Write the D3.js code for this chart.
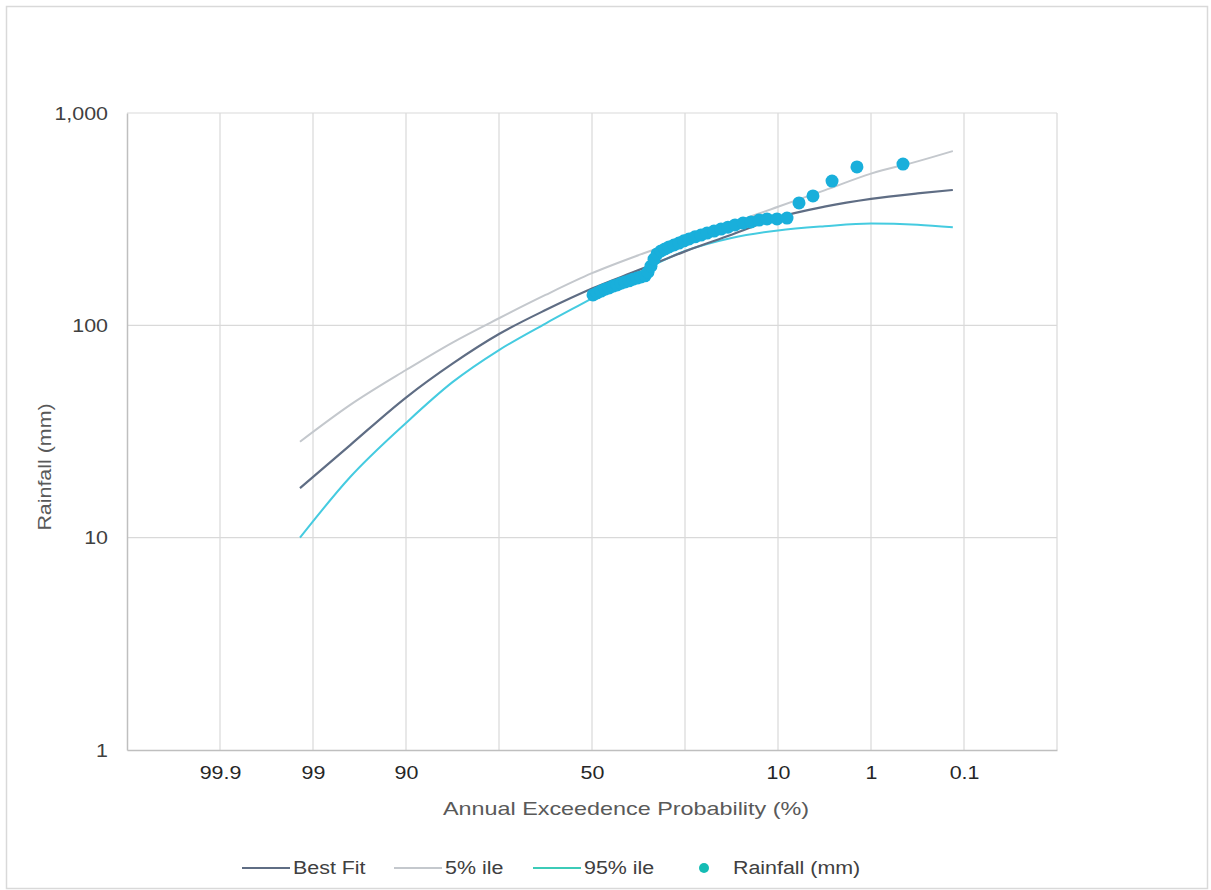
<!DOCTYPE html>
<html><head><meta charset="utf-8">
<script src="https://cdn.jsdelivr.net/npm/d3@7"></script>
<style>
body{margin:0;background:#fff}
svg{display:block}
text{font-family:"Liberation Sans",Arial,Helvetica,sans-serif}
</style>
</head><body>
<svg id="chart" width="1211" height="890"></svg>
<script>
// ---- data ----
const xTickPos = [1, 2, 3, 5, 7, 8, 9];
const xTickLabels = ["99.9", "99", "90", "50", "10", "1", "0.1"];
const yTickValues = [1, 10, 100, 1000];

const curveX = [1.86, 2.4, 3.0, 3.5, 4.0, 4.5, 5.0, 5.5, 6.0, 6.5, 7.0, 7.5, 8.0, 8.5, 8.88];
const bestFit = [17.1, 27.3, 45.7, 66, 91, 118, 149, 182, 223, 267, 322, 362, 394, 418, 434];
const pct5    = [28.3, 42.2, 61.6, 83, 108, 139, 176, 214, 255, 302, 362, 432, 518, 592, 662];
const pct95   = [10.0, 19.3, 34.7, 54, 76.5, 102, 134, 177, 224, 258, 280, 293, 302, 298, 290];

const rainX = [5.011, 5.054, 5.097, 5.140, 5.183, 5.226, 5.269, 5.312, 5.355, 5.398, 5.441, 5.484,
  5.527, 5.570, 5.602, 5.634, 5.667, 5.699, 5.742, 5.785, 5.828, 5.882, 5.935, 5.989, 6.043, 6.108,
  6.172, 6.237, 6.312, 6.387, 6.462, 6.538, 6.624, 6.710, 6.796, 6.882, 6.989, 7.097, 7.226, 7.376,
  7.581, 7.849, 8.344];
const rainY = [139, 142, 145, 148, 150, 153, 155, 158, 160, 162, 165, 167,
  169, 171, 178, 190, 205, 217, 224, 229, 234, 239, 244, 250, 255, 261,
  266, 272, 278, 284, 290, 297, 303, 307, 313, 317, 317, 320, 377, 407,
  478, 557, 575];

const seriesNames = ["Best Fit", "5% ile", "95% ile", "Rainfall (mm)"];
const colors = {best: "#5f6d84", p5: "#c4c8cd", p95: "#45cbe0", rain: "#19afdb"};

// ---- layout ----
const svg = d3.select("#chart");
const L = 127, R = 1057, T = 113, B = 750;
const x = d3.scaleLinear().domain([0, 10]).range([L, R]);
const y = d3.scaleLog().domain([1, 1000]).range([B, T]);
const SX = 1.19; // horizontal text stretch

svg.append("rect").attr("x", 6.5).attr("y", 6.5).attr("width", 1201).attr("height", 882)
  .attr("fill", "#fff").attr("stroke", "#d9d9d9").attr("stroke-width", 1.5);

// gridlines
const grid = svg.append("g");
grid.selectAll("line.v").data(d3.range(1, 11)).join("line")
  .attr("x1", d => x(d)).attr("x2", d => x(d)).attr("y1", T).attr("y2", B)
  .attr("stroke", "#d9d9d9").attr("stroke-width", 1.2);
grid.selectAll("line.h").data(yTickValues.slice(1)).join("line")
  .attr("x1", L).attr("x2", R).attr("y1", d => y(d)).attr("y2", d => y(d))
  .attr("stroke", "#d9d9d9").attr("stroke-width", 1.2);

// axes
const xAxis = d3.axisBottom(x).tickValues(xTickPos).tickSize(0)
  .tickFormat((d, i) => xTickLabels[i]);
const gx = svg.append("g").attr("transform", `translate(0,${B})`).call(xAxis);
gx.select(".domain").attr("stroke", "#bfbfbf").attr("stroke-width", 1.5);
gx.selectAll("text").attr("fill", "#262626").attr("font-size", 18)
  .attr("x", 0).attr("y", 0).attr("dy", 0)
  .attr("transform", `translate(0,29) scale(${SX},1)`);

const yAxis = d3.axisLeft(y).tickValues(yTickValues).tickSize(0)
  .tickFormat(d3.format(",d"));
const gy = svg.append("g").attr("transform", `translate(${L},0)`).call(yAxis);
gy.select(".domain").attr("stroke", "#bfbfbf").attr("stroke-width", 1.5);
gy.selectAll("text").attr("fill", "#404040").attr("font-size", 18)
  .attr("x", 0).attr("dy", "0.35em")
  .attr("transform", `translate(-19,0) scale(${SX},1)`);

// axis titles
svg.append("text").attr("transform", `translate(626,815) scale(1.23,1)`)
  .attr("text-anchor", "middle").attr("font-size", 19).attr("fill", "#595959")
  .text("Annual  Exceedence Probability (%)");
svg.append("text").attr("transform", `translate(51,467) rotate(-90) scale(${SX},1)`)
  .attr("text-anchor", "middle").attr("font-size", 18).attr("fill", "#595959")
  .text("Rainfall (mm)");

// lines
const line = vals => d3.line().x((d, i) => x(curveX[i])).y(d => y(d)).curve(d3.curveMonotoneX)(vals);
svg.append("path").attr("d", line(pct5)).attr("fill", "none").attr("stroke", colors.p5).attr("stroke-width", 2);
svg.append("path").attr("d", line(pct95)).attr("fill", "none").attr("stroke", colors.p95).attr("stroke-width", 2);
svg.append("path").attr("d", line(bestFit)).attr("fill", "none").attr("stroke", colors.best).attr("stroke-width", 2.2);

// points
svg.append("g").selectAll("circle").data(rainX).join("circle")
  .attr("cx", d => x(d)).attr("cy", (d, i) => y(rainY[i])).attr("r", 6.5)
  .attr("fill", colors.rain);

// legend
const lg = svg.append("g").attr("transform", "translate(0,868)");
const legendItems = [
  {name: seriesNames[0], type: "line", color: colors.best, x: 242},
  {name: seriesNames[1], type: "line", color: colors.p5, x: 394},
  {name: seriesNames[2], type: "line", color: "#3ccbb8", x: 533},
  {name: seriesNames[3], type: "dot", color: "#14bcb4", x: 698}
];
legendItems.forEach(it => {
  if (it.type === "line") {
    lg.append("line").attr("x1", it.x).attr("x2", it.x + 48).attr("y1", 0).attr("y2", 0)
      .attr("stroke", it.color).attr("stroke-width", 2);
    lg.append("text").attr("transform", `translate(${it.x + 51},6) scale(${SX},1)`)
      .attr("font-size", 18).attr("fill", "#404040").text(it.name);
  } else {
    lg.append("circle").attr("cx", it.x + 6).attr("cy", 0).attr("r", 5).attr("fill", it.color);
    lg.append("text").attr("transform", `translate(${it.x + 35},6) scale(${SX},1)`)
      .attr("font-size", 18).attr("fill", "#404040").text(it.name);
  }
});
</script>
</body></html>
